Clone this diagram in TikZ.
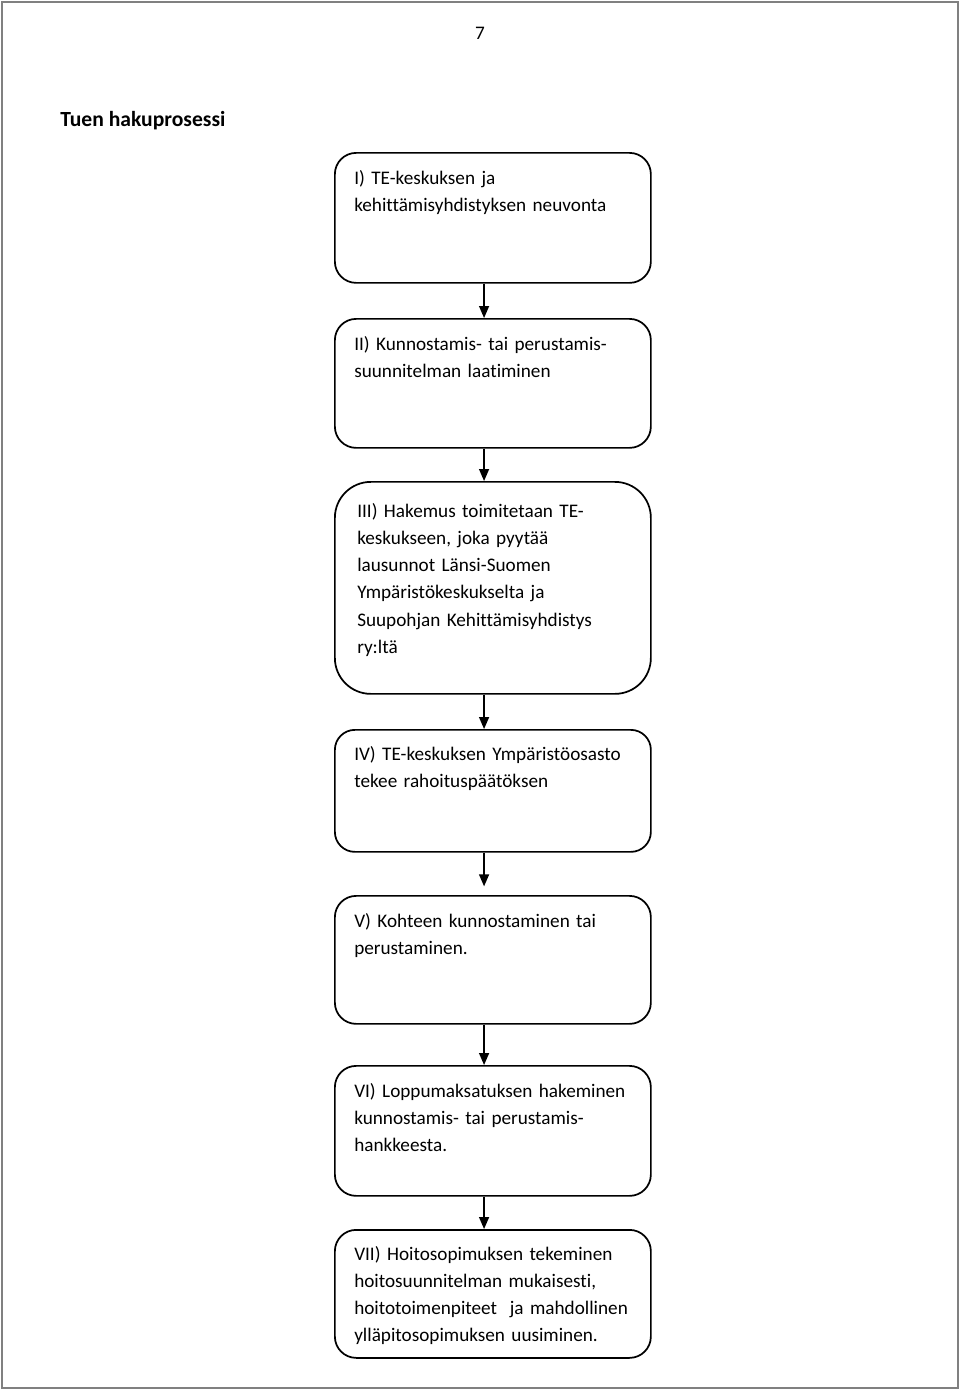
\documentclass[tikz,border=0pt]{standalone}
\usepackage{fontspec}
\setmainfont{Carlito}[Ligatures=NoCommon]
\usetikzlibrary{arrows.meta}
\begin{document}
\begin{tikzpicture}[x=0.75pt,y=-0.75pt,
  stepbox/.style={draw=black,line width=1.3pt,minimum width=316*0.75pt,inner sep=0pt,anchor=north west},
  boxtext/.style={anchor=north west,inner sep=0pt,text width=300*0.75pt,align=left,
    font=\fontsize{14.4}{20.4}\selectfont},
  flowarrow/.style={line width=1pt,-{Triangle[length=9pt,width=7.5pt]}},
  frame/.style={draw=black!50,line width=1.5pt}]
\useasboundingbox (0,0) rectangle (960,1390);
\draw[frame] (2,2) rectangle (958,1388);
\node[font=\fontsize{14.4}{16}\selectfont] (pagenum) at (480,33) {7};
\node[anchor=west,inner sep=0pt,font=\fontsize{16.2}{18}\selectfont\bfseries] (title) at (60,121) {Tuen hakuprosessi};
% boxes
\node[stepbox,minimum height=130*0.75pt,rounded corners=16pt] (b1) at (334,152) {};
\node[stepbox,minimum height=129*0.75pt,rounded corners=16pt] (b2) at (334,318) {};
\node[stepbox,minimum height=212*0.75pt,rounded corners=27pt] (b3) at (334,481) {};
\node[stepbox,minimum height=122*0.75pt,rounded corners=15pt] (b4) at (334,729) {};
\node[stepbox,minimum height=128*0.75pt,rounded corners=16pt] (b5) at (334,895) {};
\node[stepbox,minimum height=130*0.75pt,rounded corners=16pt] (b6) at (334,1065) {};
\node[stepbox,minimum height=128*0.75pt,rounded corners=16pt] (b7) at (334,1229) {};
% texts
\node[boxtext] (t1) at (354,165) {\strut I) TE-keskuksen ja\\kehittämisyhdistyksen neuvonta};
\node[boxtext] (t2) at (354,331) {\strut II) Kunnostamis- tai perustamis-\\suunnitelman laatiminen};
\node[boxtext] (t3) at (357,498) {\strut III) Hakemus toimitetaan TE-\\keskukseen, joka pyytää\\lausunnot Länsi-Suomen\\Ympäristökeskukselta ja\\Suupohjan Kehittämisyhdistys\\ry:ltä};
\node[boxtext] (t4) at (354,741) {\strut IV) TE-keskuksen Ympäristöosasto\\tekee rahoituspäätöksen};
\node[boxtext] (t5) at (354,908) {\strut V) Kohteen kunnostaminen tai\\perustaminen.};
\node[boxtext] (t6) at (354,1078) {\strut VI) Loppumaksatuksen hakeminen\\kunnostamis- tai perustamis-\\hankkeesta.};
\node[boxtext] (t7) at (354,1241) {\strut VII) Hoitosopimuksen tekeminen\\hoitosuunnitelman mukaisesti,\\hoitotoimenpiteet\ \ ja mahdollinen\\ylläpitosopimuksen uusiminen.};
% arrows
\draw[flowarrow] ([xshift=-6.6pt]b1.south) -- ([xshift=-6.6pt]b2.north);
\draw[flowarrow] ([xshift=-6.6pt]b2.south) -- ([xshift=-6.6pt]b3.north);
\draw[flowarrow] ([xshift=-6.6pt]b3.south) -- ([xshift=-6.6pt]b4.north);
\draw[flowarrow] ([xshift=-6.6pt]b4.south) -- ([xshift=-6.6pt,yshift=6.5pt]b5.north);
\draw[flowarrow] ([xshift=-6.6pt]b5.south) -- ([xshift=-6.6pt]b6.north);
\draw[flowarrow] ([xshift=-6.6pt]b6.south) -- ([xshift=-6.6pt]b7.north);
\end{tikzpicture}
\end{document}
